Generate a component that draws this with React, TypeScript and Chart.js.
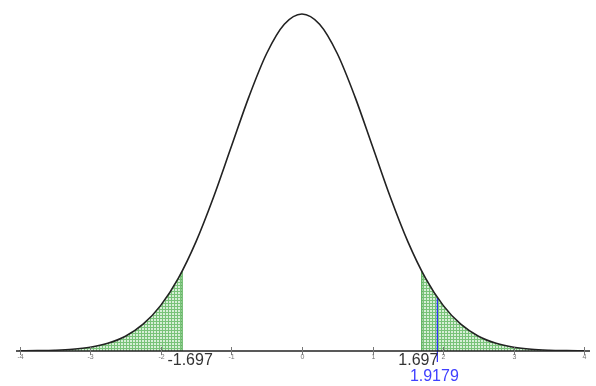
import { useEffect, useRef } from "react";
import { Chart, registerables } from "chart.js";
Chart.register(...registerables);

const xValues = [-4, -3.75, -3.5, -3.25, -3, -2.75, -2.5, -2.25, -2, -1.75, -1.5, -1.25, -1, -0.75, -0.5, -0.25, 0, 0.25, 0.5, 0.75, 1, 1.25, 1.5, 1.75, 2, 2.25, 2.5, 2.75, 3, 3.25, 3.5, 3.75, 4];
const density = [0.0001, 0.0004, 0.0009, 0.002, 0.0044, 0.0091, 0.0175, 0.0317, 0.054, 0.0863, 0.1295, 0.1826, 0.242, 0.3011, 0.3521, 0.3867, 0.3989, 0.3867, 0.3521, 0.3011, 0.242, 0.1826, 0.1295, 0.0863, 0.054, 0.0317, 0.0175, 0.0091, 0.0044, 0.002, 0.0009, 0.0004, 0.0001];
const criticalValue = 1.697;
const criticalDensity = 0.0945;
const testStatistic = 1.9179;
const testDensity = 0.0633;
const tickValues = [-4, -3, -2, -1, 0, 1, 2, 3, 4];
const tickLabels = ["-4", "-3", "-2", "-1", "0", "1", "2", "3", "4"];
const criticalLabels = ["-1.697", "1.697"];
const testLabel = "1.9179";

function makePattern(): CanvasPattern | string {
  const c = document.createElement("canvas");
  c.width = 3;
  c.height = 3;
  const g = c.getContext("2d");
  if (!g) return "#a9d9a9";
  g.fillStyle = "#78c278";
  g.fillRect(0, 0, 3, 3);
  g.fillStyle = "#d6eed6";
  g.fillRect(1, 1, 2, 2);
  const p = g.createPattern(c, "repeat");
  return p || "#a9d9a9";
}

export default function App() {
  const ref = useRef<HTMLCanvasElement>(null);
  useEffect(() => {
    if (!ref.current) return;
    const curve = xValues.map((x, i) => ({ x, y: density[i] }));
    const leftTail = [...curve.filter((p) => p.x < -criticalValue), { x: -criticalValue, y: criticalDensity }];
    const rightTail = [{ x: criticalValue, y: criticalDensity }, ...curve.filter((p) => p.x > criticalValue)];
    const pattern = makePattern();
    const green = "#4aa84a";

    const axisPlugin = {
      id: "axisPlugin",
      afterDatasetsDraw(chart: any) {
        const ctx = chart.ctx;
        const xs = chart.scales.x;
        const ys = chart.scales.y;
        const y0 = ys.getPixelForValue(0);
        ctx.save();
        ctx.strokeStyle = "#222";
        ctx.lineWidth = 1.5;
        ctx.beginPath();
        ctx.moveTo(chart.chartArea.left, y0);
        ctx.lineTo(chart.chartArea.right, y0);
        ctx.stroke();
        ctx.lineWidth = 1;
        ctx.strokeStyle = "#777";
        ctx.fillStyle = "#777";
        ctx.font = "7px 'Liberation Sans'";
        ctx.textAlign = "center";
        ctx.textBaseline = "middle";
        tickValues.forEach((v, i) => {
          const px = Math.round(xs.getPixelForValue(v)) + 0.5;
          ctx.beginPath();
          ctx.moveTo(px, y0 - 4);
          ctx.lineTo(px, y0 + 4);
          ctx.stroke();
          ctx.fillText(tickLabels[i], px, y0 + 6);
        });
        ctx.font = "16px 'Liberation Sans'";
        ctx.fillStyle = "#333";
        ctx.textAlign = "center";
        ctx.fillText(criticalLabels[0], xs.getPixelForValue(-criticalValue) + 8, y0 + 10);
        ctx.textAlign = "right";
        ctx.fillText(criticalLabels[1], xs.getPixelForValue(testStatistic) + 1, y0 + 10);
        ctx.textAlign = "center";
        ctx.fillStyle = "#4040ff";
        ctx.fillText(testLabel, xs.getPixelForValue(testStatistic) - 3, y0 + 26);
        ctx.restore();
      },
    };

    const chart = new Chart(ref.current, {
      type: "scatter",
      data: {
        datasets: [
          {
            data: curve,
            showLine: true,
            borderColor: "#222",
            borderWidth: 1.6,
            pointRadius: 0,
            cubicInterpolationMode: "monotone",
            fill: false,
          },
          {
            data: [{ x: testStatistic, y: -0.013 }, { x: testStatistic, y: testDensity }],
            showLine: true,
            borderColor: "#2a2aff",
            borderWidth: 1.2,
            pointRadius: 0,
            clip: false,
          },
          {
            data: [{ x: -criticalValue, y: 0 }, { x: -criticalValue, y: criticalDensity }],
            showLine: true,
            borderColor: green,
            borderWidth: 1.2,
            pointRadius: 0,
          },
          {
            data: [{ x: criticalValue, y: 0 }, { x: criticalValue, y: criticalDensity }],
            showLine: true,
            borderColor: green,
            borderWidth: 1.2,
            pointRadius: 0,
          },
          {
            data: leftTail,
            showLine: true,
            borderWidth: 0,
            borderColor: "rgba(0,0,0,0)",
            backgroundColor: pattern as any,
            pointRadius: 0,
            cubicInterpolationMode: "monotone",
            fill: "origin",
          },
          {
            data: rightTail,
            showLine: true,
            borderWidth: 0,
            borderColor: "rgba(0,0,0,0)",
            backgroundColor: pattern as any,
            pointRadius: 0,
            cubicInterpolationMode: "monotone",
            fill: "origin",
          },
        ],
      },
      options: {
        responsive: false,
        animation: false,
        layout: { padding: { left: 16, right: 6, top: 10, bottom: 35 } },
        scales: {
          x: { type: "linear", min: -4.05, max: 4.08, display: false },
          y: { type: "linear", min: 0, max: 0.4036, display: false },
        },
        plugins: { legend: { display: false }, tooltip: { enabled: false } },
      },
      plugins: [axisPlugin],
    } as any);
    return () => chart.destroy();
  }, []);
  return (
    <div style={{ position: "fixed", left: 0, top: 0, width: 596, height: 386, background: "#fff" }}>
      <canvas ref={ref} width={596} height={386} />
    </div>
  );
}
